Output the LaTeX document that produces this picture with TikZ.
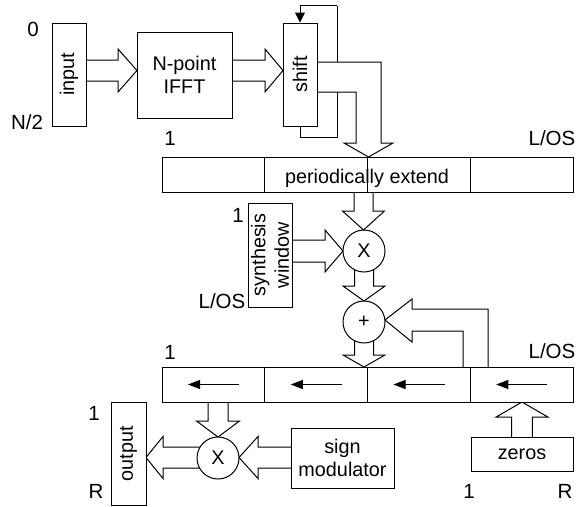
\documentclass[tikz,border=0pt]{standalone}
\usepackage{fontspec}
\setmainfont{Liberation Sans}
\usetikzlibrary{arrows.meta,calc}
\pgfdeclarelayer{bg}
\pgfsetlayers{bg,main}
% hollow block arrows: start, head base, tip, axis, shaft half width, head half width
\newcommand\harrow[6]{%
  \draw[hollow] (#1,#4-#5) -- (#2,#4-#5) -- (#2,#4-#6) -- (#3,#4)
    -- (#2,#4+#6) -- (#2,#4+#5) -- (#1,#4+#5);}
\newcommand\varrow[6]{%
  \draw[hollow] (#4-#5,#1) -- (#4-#5,#2) -- (#4-#6,#2) -- (#4,#3)
    -- (#4+#6,#2) -- (#4+#5,#2) -- (#4+#5,#1);}
\begin{document}
\begin{tikzpicture}[x=1pt,y=-1pt,
  every node/.style={font=\fontsize{19.8}{23.5}\selectfont},
  box/.style={draw, fill=white, line width=1pt, inner sep=0pt},
  ring/.style={draw, fill=white, line width=1pt, circle, inner sep=0pt, minimum size=42pt},
  hollow/.style={draw, fill=white, line width=1pt, line join=miter},
  wire/.style={draw, line width=1pt},
  lbl/.style={inner sep=0pt, font=\fontsize{20.5}{24}\selectfont}]
\useasboundingbox (0,0) rectangle (578,506);

% blocks
\node[box, minimum width=34pt, minimum height=103pt] (in) at (69,74.5) {};
\node[rotate=90] (intext) at (in) {input};
\node[box, minimum width=95pt, minimum height=86pt, align=center] (fft) at (184.5,75) {N-point\\IFFT};
\node[box, minimum width=34pt, minimum height=103pt] (shift) at (300,74.5) {};
\node[rotate=90] (shifttext) at (shift) {shift};

\node[box, minimum width=411pt, minimum height=35pt] (pe) at (367.5,174.5) {};
\foreach \f in {0.25,0.5,0.75}
  \draw[wire] ($(pe.north west)!\f!(pe.north east)$) -- ($(pe.south west)!\f!(pe.south east)$);
\node (petext) at (367,178.5) {periodically extend};

\node[box, minimum width=44pt, minimum height=104pt] (win) at (270,255) {};
\node[rotate=90, align=center] (wintext) at (win) {synthesis\\window};

\node[ring] (mula) at (364,251) {X};
\node[ring] (add) at (364,322) {+};

\node[box, minimum width=411pt, minimum height=35pt] (sr) at (367.5,384.5) {};
\foreach \f in {0.25,0.5,0.75}
  \draw[wire] ($(sr.north west)!\f!(sr.north east)$) -- ($(sr.south west)!\f!(sr.south east)$);
\foreach \i in {0,1,2,3}
  \draw[wire, -{Triangle[length=12pt,width=9pt]}] (162+\i*102.75+77,384.5) -- (162+\i*102.75+26,384.5);

\node[box, minimum width=35pt, minimum height=103pt] (out) at (128.5,453.5) {};
\node[rotate=90] (outtext) at (out) {output};
\node[ring] (mulb) at (218,458) {X};
\node[box, minimum width=103pt, minimum height=60pt, align=center] (sgn) at (342.5,458) {sign\\modulator};
\node[box, minimum width=102pt, minimum height=34pt] (zer) at (522,454) {zeros};

% index labels
\node[lbl] (l0) at (33,29) {0};
\node[lbl] (ln2) at (27,122) {N/2};
\node[lbl] (lpe1) at (170,138) {1};
\node[lbl] (lpe2) at (552,138) {L/OS};
\node[lbl] (lw1) at (238,215) {1};
\node[lbl] (lw2) at (222,301) {L/OS};
\node[lbl] (lsr1) at (170,352) {1};
\node[lbl] (lsr2) at (552,351) {L/OS};
\node[lbl] (lo1) at (94,413) {1};
\node[lbl] (lo2) at (96,491) {R};
\node[lbl] (lz1) at (469,491) {1};
\node[lbl] (lz2) at (565,491) {R};

\begin{pgfonlayer}{bg}
  % circular shift feedback
  \draw[wire] (shift.south) -- ++(0,11) coordinate (fb1) -- ++(37,0) coordinate (fb2)
    -- ++(0,-132) coordinate (fb3);
  \draw[wire, -{Triangle[length=10pt,width=10pt]}] (fb3) -- (fb3 -| shift.north) -- (shift.north);
  % shift -> periodic extension (L-shaped block arrow)
  \draw[hollow] (310,62) -- (381,62) -- (381,143) -- (393,143) -- (368.5,157)
    -- (344,143) -- (356,143) -- (356,92) -- (310,92);
  \harrow{80}{118}{137}{70.5}{10.5}{21.5}
  \harrow{225}{265}{283}{70.5}{10.5}{21.5}
  \varrow{185}{211}{230}{363.5}{9.5}{21}
  \harrow{285}{325}{343}{251}{11}{21}
  \varrow{260}{286}{301}{364}{9.5}{21}
  \varrow{330}{355}{367}{364}{9.5}{21}
  % overlap-add feedback into the adder
  \draw[hollow] (463,372) -- (463,331) -- (412,331) -- (412,342) -- (385,320)
    -- (412,299) -- (412,309) -- (488,309) -- (488,372);
  \varrow{395}{421}{437}{218}{10}{21.5}
  \harrow{210}{163}{146}{457.5}{10.5}{21}
  \harrow{300}{258}{239}{457.5}{10.5}{21}
  \varrow{445}{417}{402}{522}{10.3}{25.8}
\end{pgfonlayer}
\end{tikzpicture}
\end{document}
